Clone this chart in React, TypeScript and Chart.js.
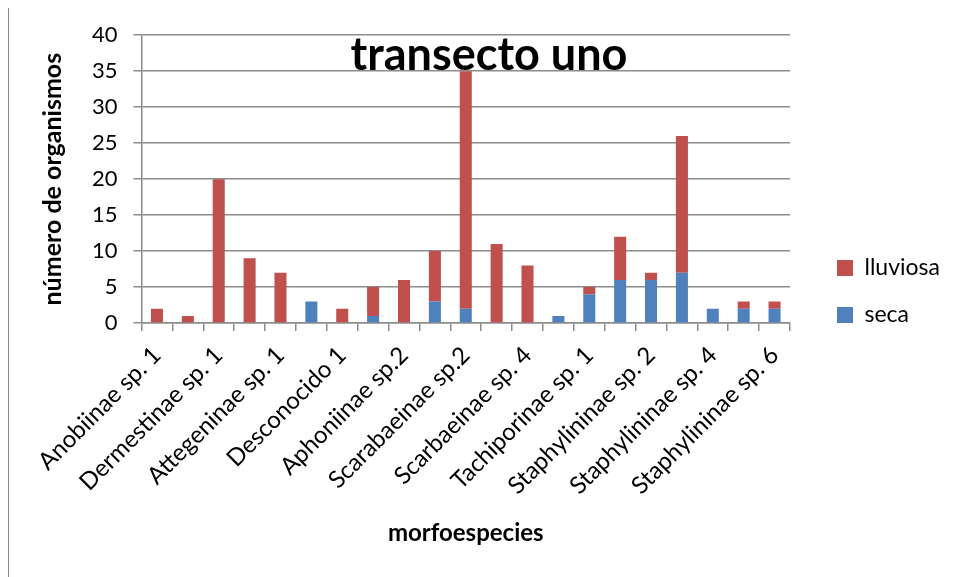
import React, { useEffect, useRef } from "react";
import { Chart, registerables } from "chart.js";

Chart.register(...registerables);

const categories = [
  "Anobiinae sp. 1",
  "Anobiinae sp. 2",
  "Dermestinae sp. 1",
  "Dermestinae sp. 2",
  "Attegeninae sp. 1",
  "Attegeninae sp. 2",
  "Desconocido 1",
  "Aphoniinae sp.1",
  "Aphoniinae sp.2",
  "Scarabaeinae sp.1",
  "Scarabaeinae sp.2",
  "Scarbaeinae sp. 3",
  "Scarbaeinae sp. 4",
  "Scarbaeinae sp. 5",
  "Tachiporinae sp. 1",
  "Staphylininae sp. 1",
  "Staphylininae sp. 2",
  "Staphylininae sp. 3",
  "Staphylininae sp. 4",
  "Staphylininae sp. 5",
  "Staphylininae sp. 6",
];

const seca = [0, 0, 0, 0, 0, 3, 0, 1, 0, 3, 2, 0, 0, 1, 4, 6, 6, 7, 2, 2, 2];
const lluviosa = [2, 1, 20, 9, 7, 0, 2, 4, 6, 7, 33, 11, 8, 0, 1, 6, 1, 19, 0, 1, 1];

const chartTitle = "transecto uno";
const yTitle = "número de organismos";
const xTitle = "morfoespecies";

const FONT = "Lato, 'Open Sans', sans-serif";
const GRID = "#8c8c8c";

const titlePlugin = {
  id: "overlayTitle",
  afterDraw(chart: any) {
    const ctx = chart.ctx;
    ctx.save();
    ctx.font = `bold 45px ${FONT}`;
    ctx.fillStyle = "#000";
    ctx.textAlign = "center";
    ctx.textBaseline = "alphabetic";
    ctx.fillText(chartTitle, chart.width / 2, chart.chartArea.top + 35);
    ctx.restore();
  },
};

export default function App() {
  const ref = useRef<HTMLCanvasElement>(null);
  useEffect(() => {
    if (!ref.current) return;
    const chart = new Chart(ref.current, {
      type: "bar",
      data: {
        labels: categories,
        datasets: [
          {
            label: "seca",
            data: seca,
            backgroundColor: "#4F81BD",
            categoryPercentage: 1,
            barPercentage: 0.39,
          },
          {
            label: "lluviosa",
            data: lluviosa,
            backgroundColor: "#C0504D",
            categoryPercentage: 1,
            barPercentage: 0.39,
          },
        ],
      },
      plugins: [titlePlugin],
      options: {
        animation: false,
        responsive: true,
        maintainAspectRatio: false,
        layout: { padding: { left: 29, right: 19, top: 29, bottom: 58 } },
        plugins: {
          title: { display: false },
          tooltip: { enabled: false },
          legend: {
            position: "right",
            align: "center",
            reverse: true,
            labels: {
              boxWidth: 16,
              boxHeight: 16,
              padding: 24,
              color: "#000",
              font: { family: FONT, size: 23 },
            },
          },
        },
        scales: {
          x: {
            stacked: true,
            grid: {
              drawOnChartArea: false,
              drawTicks: true,
              tickLength: 8,
              color: GRID,
              lineWidth: 1.5,
              offset: true,
            },
            border: { color: GRID, width: 1.5 },
            ticks: {
              autoSkip: false,
              maxRotation: 45,
              minRotation: 45,
              color: "#000",
              font: { family: FONT, size: 24 },
              padding: 10,
              callback: (_v: any, i: number) => (i % 2 === 0 ? categories[i] : ""),
            },
            title: {
              display: true,
              text: xTitle,
              color: "#000",
              font: { family: FONT, size: 24, weight: "bold" },
              padding: { top: 9, bottom: 0 },
            },
          },
          y: {
            stacked: true,
            min: 0,
            max: 40,
            grid: {
              color: GRID,
              lineWidth: 1.5,
              tickLength: 8,
            },
            border: { color: GRID, width: 1.5 },
            ticks: {
              stepSize: 5,
              color: "#000",
              font: { family: FONT, size: 22 },
              padding: 16,
            },
            title: {
              display: true,
              text: yTitle,
              color: "#000",
              font: { family: FONT, size: 25, weight: "bold" },
              padding: { top: 0, bottom: 8 },
            },
          },
          ySpacer: {
            position: "right",
            display: true,
            grid: { display: false },
            border: { display: false },
            ticks: { display: false },
            afterFit(scale: any) {
              scale.width = 23;
            },
          },
        },
      },
    });
    return () => chart.destroy();
  }, []);
  return (
    <div
      style={{
        position: "relative",
        marginTop: -3,
        width: 960,
        height: 600,
        borderTop: "1px solid #888",
        borderLeft: "1px solid #888",
      }}
    >
      <canvas ref={ref} />
    </div>
  );
}
